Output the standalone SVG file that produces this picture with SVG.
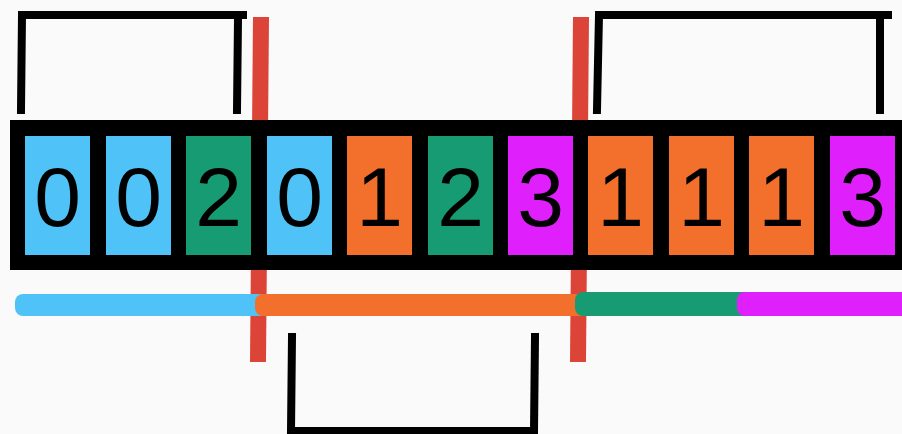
<svg xmlns="http://www.w3.org/2000/svg" width="902" height="434" viewBox="0 0 902 434">
  <style>
    .cell text { font-family: "Liberation Sans", Arial, sans-serif; font-size: 84px; fill: #000; text-anchor: middle; }
    .c0 { fill: #4fc3f7; }
    .c1 { fill: #f2702c; }
    .c2 { fill: #169b72; }
    .c3 { fill: #e020fc; }
    .bracket { fill: none; stroke: #000; stroke-width: 8; stroke-linecap: square; }
    .divider { stroke: #dc4438; stroke-width: 16; }
  </style>
  <rect x="0" y="0" width="902" height="434" fill="#fafafa"/>

  <g id="dividers">
    <line class="divider" x1="261" y1="17" x2="258" y2="362"/>
    <line class="divider" x1="581" y1="17" x2="578" y2="362"/>
  </g>

  <g id="array">
    <rect x="10" y="120" width="900" height="150" fill="#000"/>
  </g>

  <g id="cell0" class="cell"><rect class="c0" x="25" y="136" width="65" height="119"/><text x="57.5" y="226">0</text></g>
  <g id="cell1" class="cell"><rect class="c0" x="106" y="136" width="65" height="119"/><text x="138.5" y="226">0</text></g>
  <g id="cell2" class="cell"><rect class="c2" x="186" y="136" width="65" height="119"/><text x="218.5" y="226">2</text></g>
  <g id="cell3" class="cell"><rect class="c0" x="267" y="136" width="65" height="119"/><text x="299.5" y="226">0</text></g>
  <g id="cell4" class="cell"><rect class="c1" x="347" y="136" width="65" height="119"/><text x="379.5" y="226">1</text></g>
  <g id="cell5" class="cell"><rect class="c2" x="428" y="136" width="65" height="119"/><text x="460.5" y="226">2</text></g>
  <g id="cell6" class="cell"><rect class="c3" x="508" y="136" width="65" height="119"/><text x="540.5" y="226">3</text></g>
  <g id="cell7" class="cell"><rect class="c1" x="588" y="136" width="65" height="119"/><text x="620.5" y="226">1</text></g>
  <g id="cell8" class="cell"><rect class="c1" x="669" y="136" width="65" height="119"/><text x="701.5" y="226">1</text></g>
  <g id="cell9" class="cell"><rect class="c1" x="749" y="136" width="65" height="119"/><text x="781.5" y="226">1</text></g>
  <g id="cell10" class="cell"><rect class="c3" x="830" y="136" width="65" height="119"/><text x="862.5" y="226">3</text></g>

  <g id="ranges">
    <rect class="c0" x="15" y="294" width="260" height="22" rx="8"/>
    <rect class="c1" x="255" y="294" width="340" height="22" rx="8"/>
    <rect class="c2" x="575" y="292" width="180" height="24" rx="8"/>
    <rect class="c3" x="737" y="292" width="180" height="24" rx="8"/>
  </g>

  <g id="connectors">
    <path class="bracket" d="M21,110 L22,15 L243,15"/>
    <path class="bracket" d="M237,110 L238,19"/>
    <path class="bracket" d="M597,110 L599,15 L888,15"/>
    <path class="bracket" d="M880,110 L880,19"/>
    <path class="bracket" d="M292,337 L291,431 L534,431"/>
    <path class="bracket" d="M535,337 L534,431"/>
  </g>
</svg>
